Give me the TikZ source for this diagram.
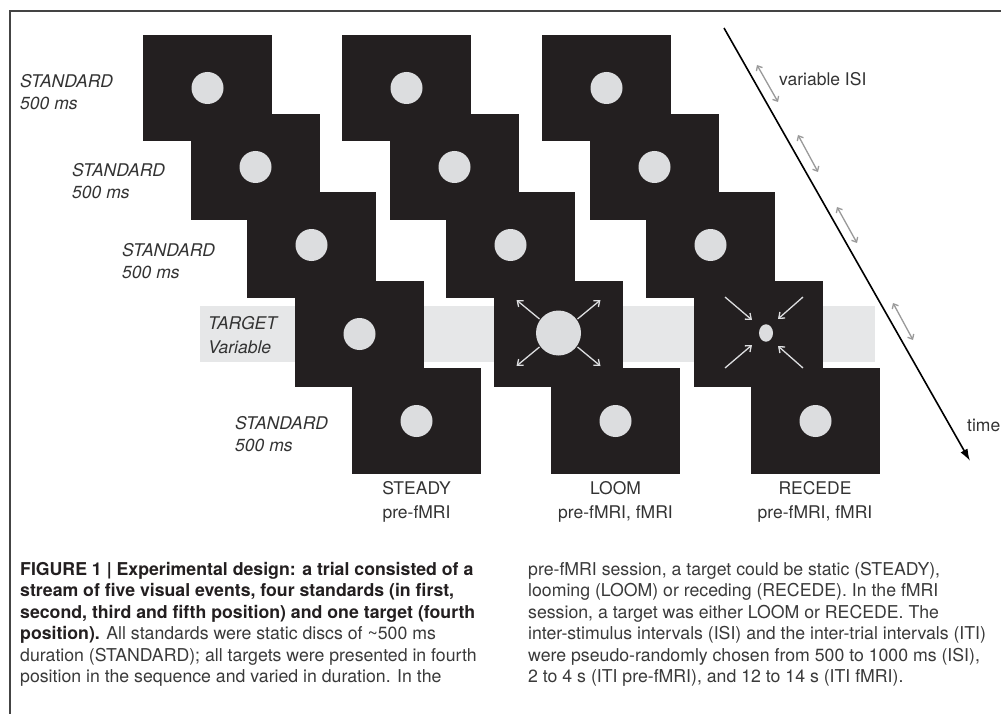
\documentclass[tikz,border=0pt]{standalone}
\usepackage{fontspec}
\setmainfont{TeX Gyre Heros}
\usetikzlibrary{arrows.meta}
\definecolor{sq}{HTML}{231F20}
\definecolor{disc}{HTML}{DCDDDF}
\definecolor{band}{HTML}{E6E7E8}
\definecolor{isi}{HTML}{9A9A9A}
\definecolor{txt}{HTML}{333333}
\definecolor{captxt}{HTML}{3A3A3A}
\definecolor{framec}{HTML}{444444}
\tikzset{
  lab/.style={font=\fontsize{17.5}{21}\selectfont\itshape, text=txt, inner sep=0pt, anchor=base west},
  cond/.style={font=\fontsize{17.5}{21}\selectfont, text=txt, inner sep=0pt, anchor=base},
  captext/.style={font=\fontsize{17.7}{21}\selectfont, text=captxt, inner sep=0pt, anchor=base west},
  isiarrow/.style={isi, line width=1.3pt, {Straight Barb[length=4pt,width=7pt]}-{Straight Barb[length=4pt,width=7pt]}},
  motion/.style={disc, line width=1.3pt, -{Straight Barb[length=5pt,width=8pt]}},
  timearrow/.style={black, line width=1.6pt, -{Latex[length=12pt,width=8pt]}}
}
\begin{document}
\begin{tikzpicture}[x=1pt,y=-1pt]
\useasboundingbox (0,0) rectangle (1001,714);
\fill[white] (0,0) rectangle (1001,714);
% frame
\draw[framec, line width=1.2pt] (1001,11) -- (10,11) -- (10,714);
% target band
\fill[band] (200,306) rectangle (875,362);
% squares
\foreach \cx in {0,199,399}{
  \foreach \x/\y in {143/35,191/114,247/192,295/281,352/368}{
    \fill[sq] (\x+\cx,\y) rectangle ++(129,106);
  }
}
% standard discs
\foreach \cx in {0,199,399}{
  \foreach \x/\y in {143/35,191/114,247/192,352/368}{
    \fill[disc] (\x+\cx+64.5,\y+53) circle (16);
  }
}
\fill[disc] (295+64.5,281+53) circle (16);
% loom
\coordinate (L) at (558.5,333);
\fill[disc] (L) circle (22.5);
\coordinate (lA1) at (577.5,319); \coordinate (lB1) at (600.5,300);
\coordinate (lA2) at (539.5,319); \coordinate (lB2) at (516.5,300);
\coordinate (lA3) at (577.5,347); \coordinate (lB3) at (600.5,366);
\coordinate (lA4) at (539.5,347); \coordinate (lB4) at (516.5,366);
\foreach \i in {1,2,3,4}{ \draw[motion] (lA\i) -- (lB\i); }
% recede
\fill[disc] (766,333) ellipse (7 and 8.7);
\coordinate (rA1) at (725,297); \coordinate (rB1) at (752,320);
\coordinate (rA2) at (725,368); \coordinate (rB2) at (752,345);
\coordinate (rA3) at (803,297); \coordinate (rB3) at (778,319);
\coordinate (rA4) at (803,368); \coordinate (rB4) at (778,346);
\foreach \i in {1,2,3,4}{ \draw[motion] (rA\i) -- (rB\i); }
% time arrow
\coordinate (t0) at (724,28);
\coordinate (t1) at (970,461);
\draw[timearrow] (t0) -- (t1);
% ISI arrows
\coordinate (i1a) at (757,65);  \coordinate (i1b) at (778,102);
\coordinate (i2a) at (798,135); \coordinate (i2b) at (818,172);
\coordinate (i3a) at (837,207); \coordinate (i3b) at (857,243);
\coordinate (i4a) at (893,303); \coordinate (i4b) at (913,340);
\foreach \i in {1,2,3,4}{ \draw[isiarrow] (i\i a) -- (i\i b); }
\node[cond, anchor=base west] (isi) at (779,86) {variable ISI};
\node[cond, anchor=base west] (time) at (967,431) {time};
% left labels
\node[lab] (s1a) at (20,88) {STANDARD};
\node[lab] (s1b) at (20,110) {500 ms};
\node[lab] (s2a) at (72,177) {STANDARD};
\node[lab] (s2b) at (72,199) {500 ms};
\node[lab] (s3a) at (122,256) {STANDARD};
\node[lab] (s3b) at (122,278) {500 ms};
\node[lab] (tga) at (208,329) {TARGET};
\node[lab] (tgb) at (208,353) {Variable};
\node[lab] (s5a) at (235,429) {STANDARD};
\node[lab] (s5b) at (235,451) {500 ms};
% condition labels
\node[cond] (c1a) at (416.5,494) {STEADY};
\node[cond] (c1b) at (416.5,518) {pre-fMRI};
\node[cond] (c2a) at (615.5,494) {LOOM};
\node[cond] (c2b) at (615.5,518) {pre-fMRI, fMRI};
\node[cond] (c3a) at (815,494) {RECEDE};
\node[cond] (c3b) at (815,518) {pre-fMRI, fMRI};
% caption left
\node[captext, text=sq] (p1) at (20,575) {\bfseries FIGURE 1 | Experimental design: a trial consisted of a};
\node[captext, text=sq] (p2) at (20,596.5) {\bfseries stream of five visual events, four standards (in first,};
\node[captext, text=sq] (p3) at (20,618) {\bfseries second, third and fifth position) and one target (fourth};
\node[captext] (p4) at (20,639.5) {{\color{sq}\bfseries position).} All standards were static discs of \textasciitilde500 ms};
\node[captext] (p5) at (20,661) {duration (STANDARD); all targets were presented in fourth};
\node[captext] (p6) at (20,682.5) {position in the sequence and varied in duration. In the};
% caption right
\node[captext] (q1) at (528,575) {pre-fMRI session, a target could be static (STEADY),};
\node[captext] (q2) at (528,596.5) {looming (LOOM) or receding (RECEDE). In the fMRI};
\node[captext] (q3) at (528,618) {session, a target was either LOOM or RECEDE. The};
\node[captext] (q4) at (528,639.5) {inter-stimulus intervals (ISI) and the inter-trial intervals (ITI)};
\node[captext] (q5) at (528,661) {were pseudo-randomly chosen from 500 to 1000 ms (ISI),};
\node[captext] (q6) at (528,682.5) {2 to 4 s (ITI pre-fMRI), and 12 to 14 s (ITI fMRI).};
\end{tikzpicture}
\end{document}
